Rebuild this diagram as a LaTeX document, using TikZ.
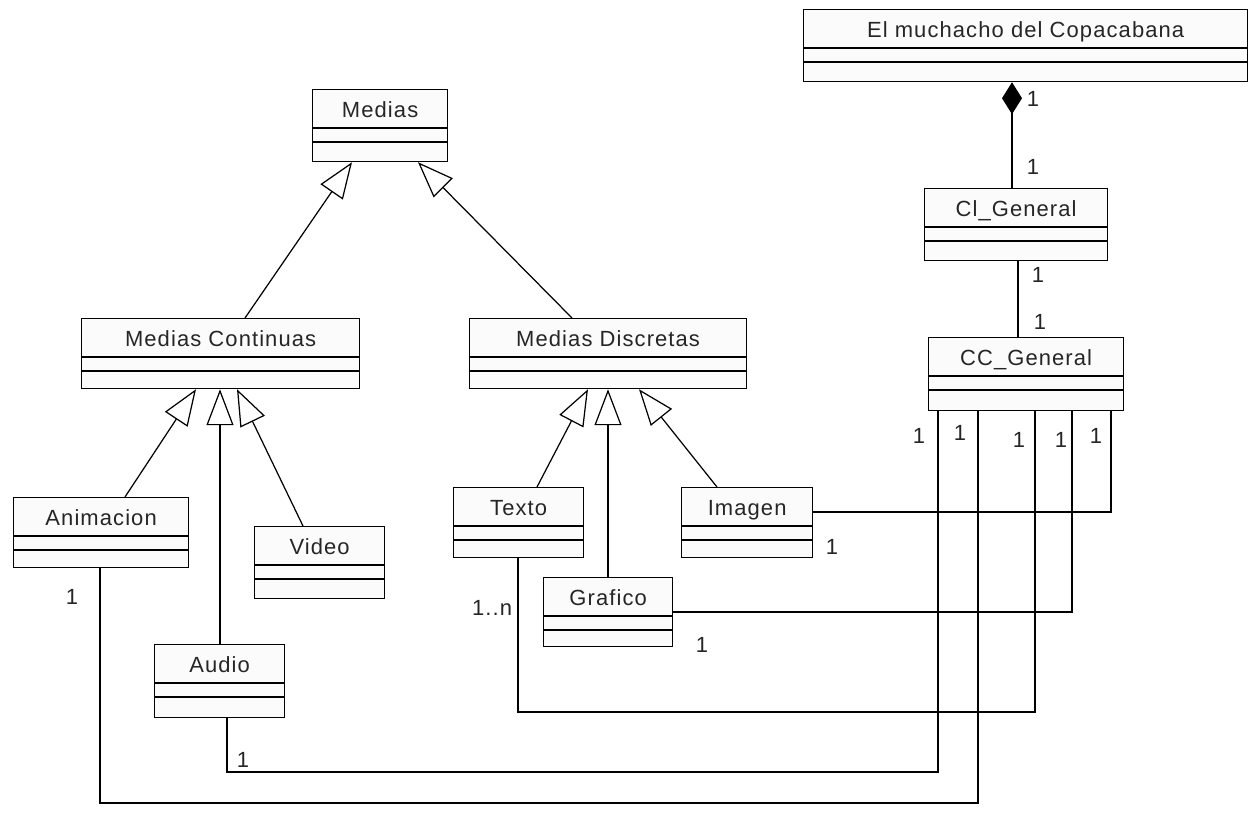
\documentclass[tikz,border=0pt]{standalone}
\usepackage{fontspec}
\setmainfont{Liberation Sans}[LetterSpace=5]
\usetikzlibrary{arrows.meta,calc}
\tikzset{
  lw/.style={line width=0.7pt},
  clsbox/.style={draw, lw, fill=gray!3, inner sep=0pt, anchor=north west},
  clsname/.style={font=\fontsize{12.5}{15}\selectfont, text=black!85, inner sep=0pt, anchor=base},
  mult/.style={font=\fontsize{12.5}{15}\selectfont, text=black!85, inner sep=0pt},
  gen/.style={lw, -{Triangle[open,length=0.72cm,width=0.54cm,fill=white]}},
  assoc/.style={lw},
  comp/.style={lw, {Diamond[length=0.64cm,width=0.4cm]}-},
}
% UML class: name, left, top, width, height, label
\newcommand\umlclass[6]{%
  \node[clsbox, minimum width=#4*0.02cm, minimum height=#5*0.02cm] (#1) at (#2,#3) {};
  \draw[lw] ($(#1.north west)+(0,39)$) -- ($(#1.north east)+(0,39)$);
  \draw[lw] ($(#1.north west)+(0,53)$) -- ($(#1.north east)+(0,53)$);
  \node[clsname] (#1-name) at ($(#1.north)+(0,28)$) {#6};
}
\begin{document}
\begin{tikzpicture}[x=0.02cm, y=-0.02cm]
  \useasboundingbox[fill=white] (0,0) rectangle (1258,812);

  % classes
  \umlclass{muchacho}{803}{9}{444}{72}{El muchacho del Copacabana}
  \umlclass{medias}{312}{89}{135}{72}{Medias}
  \umlclass{mcont}{81}{318}{278}{70}{Medias Continuas}
  \umlclass{mdisc}{469}{318}{277}{70}{Medias Discretas}
  \umlclass{clgen}{924}{188}{183}{72}{Cl\_General}
  \umlclass{ccgen}{928}{337}{195}{73}{CC\_General}
  \umlclass{anim}{13}{497}{175}{70}{Animacion}
  \umlclass{video}{254}{526}{130}{72}{Video}
  \umlclass{audio}{154}{644}{130}{73}{Audio}
  \umlclass{texto}{453}{487}{130}{70}{Texto}
  \umlclass{grafico}{543}{577}{129}{69}{Grafico}
  \umlclass{imagen}{681}{487}{131}{70}{Imagen}

  % generalizations
  \draw[gen] (245,0 |- mcont.north) -- (352,0 |- medias.south);
  \draw[gen] (572,0 |- mdisc.north) -- (418,0 |- medias.south);
  \draw[gen] (125,0 |- anim.north) -- (196,0 |- mcont.south);
  \draw[gen] (220,0 |- audio.north) -- (220,0 |- mcont.south);
  \draw[gen] (303,0 |- video.north) -- (237,0 |- mcont.south);
  \draw[gen] (537,0 |- texto.north) -- (588,0 |- mdisc.south);
  \draw[gen] (608,0 |- grafico.north) -- (608,0 |- mdisc.south);
  \draw[gen] (717,0 |- imagen.north) -- (639,0 |- mdisc.south);

  % composition and associations
  \draw[comp] (1012,0 |- muchacho.south) -- (1012,0 |- clgen.north);
  \draw[assoc] (1018,0 |- clgen.south) -- (1018,0 |- ccgen.north);
  \draw[assoc] (1111,0 |- ccgen.south) |- (imagen.east |- 0,512);
  \draw[assoc] (1072,0 |- ccgen.south) |- (grafico.east |- 0,612);
  \draw[assoc] (1035,0 |- ccgen.south) |- (518,712) -- (518,0 |- texto.south);
  \draw[assoc] (938,0 |- ccgen.south) |- (227,772) -- (227,0 |- audio.south);
  \draw[assoc] (978,0 |- ccgen.south) |- (100,803) -- (100,0 |- anim.south);

  % multiplicities
  \node[mult] (m1) at (1033,99) {1};
  \node[mult] (m2) at (1033,167) {1};
  \node[mult] (m3) at (1038,275) {1};
  \node[mult] (m4) at (1040,322) {1};
  \node[mult] (m5) at (919,436) {1};
  \node[mult] (m6) at (960,433) {1};
  \node[mult] (m7) at (1019,440) {1};
  \node[mult] (m8) at (1061,440) {1};
  \node[mult] (m9) at (1096,436) {1};
  \node[mult] (m10) at (832,547) {1};
  \node[mult] (m11) at (702,645) {1};
  \node[mult] (m12) at (492,608) {1..n};
  \node[mult] (m13) at (72,597) {1};
  \node[mult] (m14) at (243,760) {1};
\end{tikzpicture}
\end{document}
